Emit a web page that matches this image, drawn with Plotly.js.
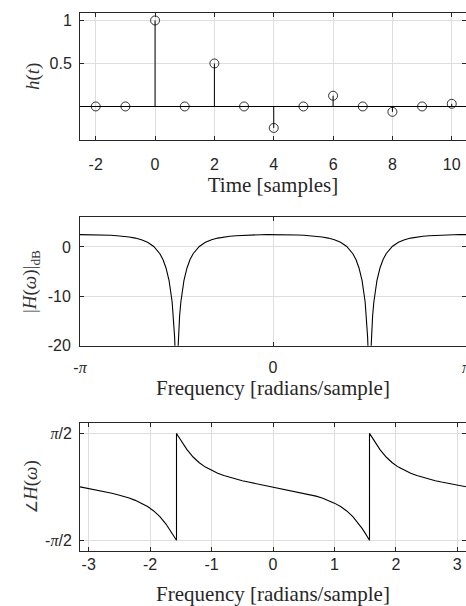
<!DOCTYPE html>
<html>
<head>
<meta charset="utf-8">
<script src="https://cdn.plot.ly/plotly-3.0.1.min.js"></script>
<style>html,body{margin:0;padding:0;background:#fff;}#chart{width:466px;height:606px;}</style>
</head>
<body>
<div id="chart"></div>
<script>
// ---- Panel 1: impulse response h(t) ----
const t = [-2, -1, 0, 1, 2, 3, 4, 5, 6, 7, 8, 9, 10];
const h = [0, 0, 1, 0, 0.5, 0, -0.25, 0, 0.125, 0, -0.0625, 0, 0.03125];
const tTickVals = [-2, 0, 2, 4, 6, 8, 10];
const tTickText = ['-2', '0', '2', '4', '6', '8', '10'];
const hTickVals = [0.5, 1];
const hTickText = ['0.5', '1'];

// ---- Panel 2: magnitude response |H(w)| in dB ----
const wMag = [
  -3.1416, -3.0416, -2.9416, -2.8416, -2.7416, -2.6416, -2.5416, -2.4416, -2.3416, -2.2416,
  -2.1416, -2.0416, -1.9416, -1.8416, -1.7916, -1.7416, -1.6916, -1.6416, -1.6216, -1.6016,
  -1.5916, -1.5816, -1.5708,
  -1.56, -1.55, -1.54, -1.52, -1.5, -1.45, -1.4, -1.35, -1.3, -1.2, -1.1, -1.0, -0.9, -0.8,
  -0.7, -0.6, -0.5, -0.4, -0.3, -0.2, -0.1, 0,
  0.1, 0.2, 0.3, 0.4, 0.5, 0.6, 0.7, 0.8, 0.9, 1.0, 1.1, 1.2, 1.3, 1.35, 1.4, 1.45, 1.5,
  1.52, 1.54, 1.55, 1.56, 1.5708,
  1.5816, 1.5916, 1.6016, 1.6216, 1.6416, 1.6916, 1.7416, 1.7916, 1.8416, 1.9416, 2.0416,
  2.1416, 2.2416, 2.3416, 2.4416, 2.5416, 2.6416, 2.7416, 2.8416, 2.9416, 3.0416, 3.1416
];
const magDb = [
  2.499, 2.494, 2.479, 2.453, 2.413, 2.357, 2.279, 2.169, 2.015, 1.793,
  1.462, 0.949, 0.106, -1.378, -2.560, -4.255, -6.816, -11.136, -13.935, -18.223,
  -21.615, -27.298, -30.0,
  -27.298, -21.615, -18.223, -13.935, -11.136, -6.816, -4.255, -2.560, -1.378, 0.106, 0.949, 1.462, 1.793, 2.015,
  2.169, 2.279, 2.357, 2.413, 2.453, 2.479, 2.494, 2.499,
  2.494, 2.479, 2.453, 2.413, 2.357, 2.279, 2.169, 2.015, 1.793, 1.462, 0.949, 0.106, -1.378, -2.560, -4.255, -6.816, -11.136,
  -13.935, -18.223, -21.615, -27.298, -30.0,
  -27.298, -21.615, -18.223, -13.935, -11.136, -6.816, -4.255, -2.560, -1.378, 0.106, 0.949,
  1.462, 1.793, 2.015, 2.169, 2.279, 2.357, 2.413, 2.453, 2.479, 2.494, 2.499
];
const wPiTickVals = [-3.14159, 0, 3.14159];
const PI_SPAN = '<span style="font-family:Liberation Serif;font-style:italic">π</span>';
const wPiTickText = ['-' + PI_SPAN, '0', PI_SPAN];
const magTickVals = [-20, -10, 0];
const magTickText = ['-20', '-10', '0'];

// ---- Panel 3: phase response angle H(w) ----
const wPh = [
  -3.1416, -3.0416, -2.9416, -2.8416, -2.7416, -2.6416, -2.5416, -2.4416, -2.3416, -2.2416,
  -2.1416, -2.0416, -1.9416, -1.8416, -1.7416, -1.6916, -1.6416, -1.6116, -1.5916, -1.5766, -1.5708,
  -1.5708, -1.565, -1.55, -1.53, -1.5, -1.45, -1.4, -1.3, -1.2, -1.1, -1.0, -0.9, -0.8, -0.7,
  -0.6, -0.5, -0.4, -0.3, -0.2, -0.1, 0,
  0.1, 0.2, 0.3, 0.4, 0.5, 0.6, 0.7, 0.8, 0.9, 1.0, 1.1, 1.2, 1.3, 1.4, 1.45, 1.5, 1.53, 1.55, 1.565, 1.5708,
  1.5708, 1.5766, 1.5916, 1.6116, 1.6416, 1.6916, 1.7416, 1.8416, 1.9416, 2.0416, 2.1416,
  2.2416, 2.3416, 2.4416, 2.5416, 2.6416, 2.7416, 2.8416, 2.9416, 3.0416, 3.1416
];
const phase = [
  0, -0.0334, -0.0675, -0.1027, -0.1400, -0.1801, -0.2242, -0.2737, -0.3306, -0.3977,
  -0.4788, -0.5798, -0.7088, -0.8763, -1.0933, -1.2216, -1.3612, -1.4489, -1.5085, -1.5534, -1.5708,
  1.5708, 1.5534, 1.5085, 1.4489, 1.3612, 1.2216, 1.0933, 0.8763, 0.7088, 0.5798, 0.4788, 0.3977, 0.3306, 0.2737,
  0.2242, 0.1801, 0.1400, 0.1027, 0.0675, 0.0334, 0,
  -0.0334, -0.0675, -0.1027, -0.1400, -0.1801, -0.2242, -0.2737, -0.3306, -0.3977, -0.4788, -0.5798, -0.7088, -0.8763, -1.0933, -1.2216, -1.3612, -1.4489, -1.5085, -1.5534, -1.5708,
  1.5708, 1.5534, 1.5085, 1.4489, 1.3612, 1.2216, 1.0933, 0.8763, 0.7088, 0.5798, 0.4788,
  0.3977, 0.3306, 0.2737, 0.2242, 0.1801, 0.1400, 0.1027, 0.0675, 0.0334, 0
];
const wTickVals = [-3, -2, -1, 0, 1, 2, 3];
const wTickText = ['-3', '-2', '-1', '0', '1', '2', '3'];
const phTickVals = [-Math.PI / 2, Math.PI / 2];
const phTickText = ['-' + PI_SPAN + '/2', PI_SPAN + '/2'];

// ---- styles ----
const INK = '#262626';
const GRID = '#dedede';
const SANS = 'Liberation Sans, Arial, sans-serif';
const SERIF = 'Liberation Serif, Times New Roman, serif';
const tickFont = {family: SANS, size: 16, color: INK};
const titleFont = {family: SERIF, size: 21, color: INK};
const yTitleFont = {family: SERIF, size: 19, color: '#333333'};

function xAxis(extra) {
  return Object.assign({
    showline: true, linecolor: INK, linewidth: 1, mirror: 'ticks',
    ticks: 'inside', ticklen: 4, tickwidth: 1, tickcolor: INK,
    showgrid: true, gridcolor: GRID, gridwidth: 1, zeroline: false,
    tickmode: 'array', tickfont: tickFont, fixedrange: true
  }, extra);
}
const yAxis = xAxis;

const stemX = t.flatMap(v => [v, v, null]);
const stemY = h.flatMap(v => [0, v, null]);

const traces = [
  {x: stemX, y: stemY, xaxis: 'x', yaxis: 'y', mode: 'lines', type: 'scatter',
   line: {color: '#000', width: 1}, hoverinfo: 'skip'},
  {x: t, y: h, xaxis: 'x', yaxis: 'y', mode: 'markers', type: 'scatter',
   marker: {symbol: 'circle-open', size: 9, color: '#000', line: {width: 0.8, color: '#000'}}},
  {x: wMag, y: magDb, xaxis: 'x2', yaxis: 'y2', mode: 'lines', type: 'scatter',
   line: {color: '#000', width: 1.1}},
  {x: wPh, y: phase, xaxis: 'x3', yaxis: 'y3', mode: 'lines', type: 'scatter',
   line: {color: '#000', width: 1.1}}
];

const layout = {
  width: 466, height: 606,
  margin: {l: 80, r: 0, t: 0, b: 0},
  paper_bgcolor: '#fff', plot_bgcolor: '#fff',
  showlegend: false,
  xaxis: xAxis({anchor: 'y', domain: [0, 1], range: [-2.53, 10.48],
    tickvals: tTickVals, ticktext: tTickText, ticklabelstandoff: 10,
    title: {text: 'Time [samples]', font: titleFont, standoff: 0}}),
  yaxis: yAxis({anchor: 'x', domain: [0.7690, 0.9790], range: [-0.39, 1.09],
    tickvals: hTickVals, ticktext: hTickText, ticklabelstandoff: 4,
    zeroline: true, zerolinecolor: '#000', zerolinewidth: 1,
    title: {text: '<i>h</i>(<i>t</i>)', font: yTitleFont, standoff: 4}}),
  xaxis2: xAxis({anchor: 'y2', domain: [0, 1], range: [-3.14165, 3.14165],
    tickvals: wPiTickVals, ticktext: wPiTickText, ticklabelstandoff: 7,
    ticklabeloverflow: 'allow',
    title: {text: 'Frequency [radians/sample]', font: titleFont, standoff: 5}}),
  yaxis2: yAxis({anchor: 'x2', domain: [0.4295, 0.6414], range: [-20, 6],
    tickvals: magTickVals, ticktext: magTickText, ticklabelstandoff: 5,
    title: {text: '|<i>H</i>(<i>ω</i>)|<sub>dB</sub>', font: yTitleFont, standoff: 6}}),
  xaxis3: xAxis({anchor: 'y3', domain: [0, 1], range: [-Math.PI, Math.PI],
    tickvals: wTickVals, ticktext: wTickText, ticklabelstandoff: -1,
    title: {text: 'Frequency [radians/sample]', font: titleFont, standoff: 14}}),
  yaxis3: yAxis({anchor: 'x3', domain: [0.0908, 0.3025], range: [-1.885, 1.885],
    tickvals: phTickVals, ticktext: phTickText, ticklabelstandoff: 4,
    title: {text: '<span style="font-family:DejaVu Sans;font-size:15px">∠</span><i>H</i>(<i>ω</i>)', font: yTitleFont, standoff: 2}})
};

Plotly.newPlot('chart', traces, layout, {staticPlot: true, displayModeBar: false});
</script>
</body>
</html>
